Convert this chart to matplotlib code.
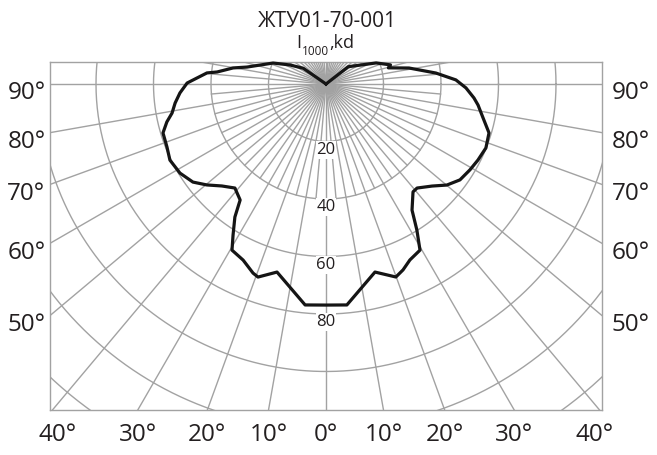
import numpy as np
import matplotlib
matplotlib.use("Agg")
import matplotlib.pyplot as plt

plt.rcParams["font.family"] = ["Open Sans", "DejaVu Sans"]

TITLE = "ЖТУ01-70-001"
UNIT_MAIN, UNIT_SUB, UNIT_TAIL = "I", "1000", ",kd"

# кривая силы света: угол от надира (град, + вправо), I (kd)
ANGLE = [-125, -124.7, -117.8, -111.6, -108.7, -102.1, -99.8, -96.3, -95.3, -91.7,
         -90.4, -86.5, -82.8, -79.3, -76.6, -73.3, -68.4, -64.0, -58.6, -53.6,
         -49.7, -45.6, -41.2, -36.5, -35.2, -34.4, -31.6, -29.5, -25.2, -21.1,
         -19.4, -14.6, -5.4, 0, 5.4, 14.6, 19.9, 22.5, 25.5, 29.5,
         31.9, 34.3, 38.9, 41.2, 46.1, 50.1, 54.4, 59.2, 63.4, 68.2,
         73.3, 77.8, 82.1, 84.6, 88.4, 91.8, 95.7, 100.9, 104.5, 106.5,
         112.8, 127.8, 128]
INTENSITY = [0, 9.6, 14.2, 19.8, 21.7, 28.1, 32.8, 38.1, 41.6, 46.3,
             48.3, 50.9, 52.9, 54.5, 56.9, 59.2, 59.5, 60.4, 59.5, 57.5,
             54.3, 50.7, 48.1, 50.2, 53.7, 56.1, 61.7, 66.4, 67.7, 70.5,
             71.2, 67.6, 77.2, 76.9, 77.2, 67.6, 71.4, 70.0, 67.8, 66.4,
             59.8, 53.1, 48.2, 48.1, 51.2, 54.8, 57.3, 58.3, 59.1, 59.9,
             59.2, 55.9, 53.4, 51.7, 48.7, 45.2, 38.4, 29.4, 22.4, 23.4,
             18.9, 9.8, 0]

RING_LABELS = [20, 40, 60, 80]
RINGS = list(range(20, 201, 20))
BOTTOM_TICKS = [-40, -30, -20, -10, 0, 10, 20, 30, 40]
SIDE_TICKS = [90, 80, 70, 60, 50]

GRID = "#a2a2a2"
INK = "#231f20"
XMAX, YMIN, YMAX = 96.0, -113.4, 7.65
PX = 2.875  # px на 1 kd

fig = plt.figure(figsize=(6.57, 4.55), dpi=100)
ax = fig.add_axes([50 / 657, 1 - 410 / 455, 552 / 657, 348 / 455])
ax.set_xlim(-XMAX, XMAX); ax.set_ylim(YMIN, YMAX)
ax.set_xticks([]); ax.set_yticks([])
for s in ax.spines.values():
    s.set_color(GRID); s.set_linewidth(1.0)

# сетка: окружности и лучи (10° до края, 5° у центра)
t = np.linspace(0, 2 * np.pi, 721)
for r in RINGS:
    ax.plot(r * np.cos(t), r * np.sin(t), color=GRID, lw=1.0, zorder=1)
for a in range(0, 360, 5):
    L = 260 if a % 10 == 0 else 40
    ar = np.radians(a)
    ax.plot([0, L * np.sin(ar)], [0, -L * np.cos(ar)], color=GRID, lw=1.0, zorder=1)

for r in RING_LABELS:
    ax.text(0, -(r + 2.9), str(r), ha="center", va="center", fontsize=12, color=INK,
            bbox=dict(facecolor="white", edgecolor="none", pad=0.6), zorder=3)

th = np.radians(ANGLE)
I = np.array(INTENSITY)
ax.plot(I * np.sin(th), -I * np.cos(th), color="#151515", lw=2.3, zorder=4,
        solid_joinstyle="round", clip_on=False)

# подписи углов (базовая линия ~ на 15 px ниже точки выхода луча)
for a in SIDE_TICKS:
    y = -XMAX * np.tan(np.radians(90 - a)) - 15.5 / PX
    ax.text(-97.6, y, f"{a}°", ha="right", va="baseline", fontsize=17.5, color=INK, clip_on=False)
    ax.text(99.3, y, f"{a}°", ha="left", va="baseline", fontsize=17.5, color=INK, clip_on=False)
for a in BOTTOM_TICKS:
    x = np.clip(-YMIN * np.tan(np.radians(a)), -93.5, 93.5)
    ax.text(x, YMIN - 31.5 / PX, f"{abs(a)}°", ha="center", va="baseline", fontsize=17.5,
            color=INK, clip_on=False)

fig.text(327 / 657, 1 - 27 / 455, TITLE, ha="center", va="baseline", fontsize=15, color=INK)
fig.text(296 / 657, 1 - 48 / 455, UNIT_MAIN, ha="left", va="baseline", fontsize=13, color=INK)
fig.text(302 / 657, 1 - 55 / 455, UNIT_SUB, ha="left", va="baseline", fontsize=8.5, color=INK)
fig.text(329 / 657, 1 - 48 / 455, UNIT_TAIL, ha="left", va="baseline", fontsize=13, color=INK)

fig.savefig("out.png", dpi=100)
